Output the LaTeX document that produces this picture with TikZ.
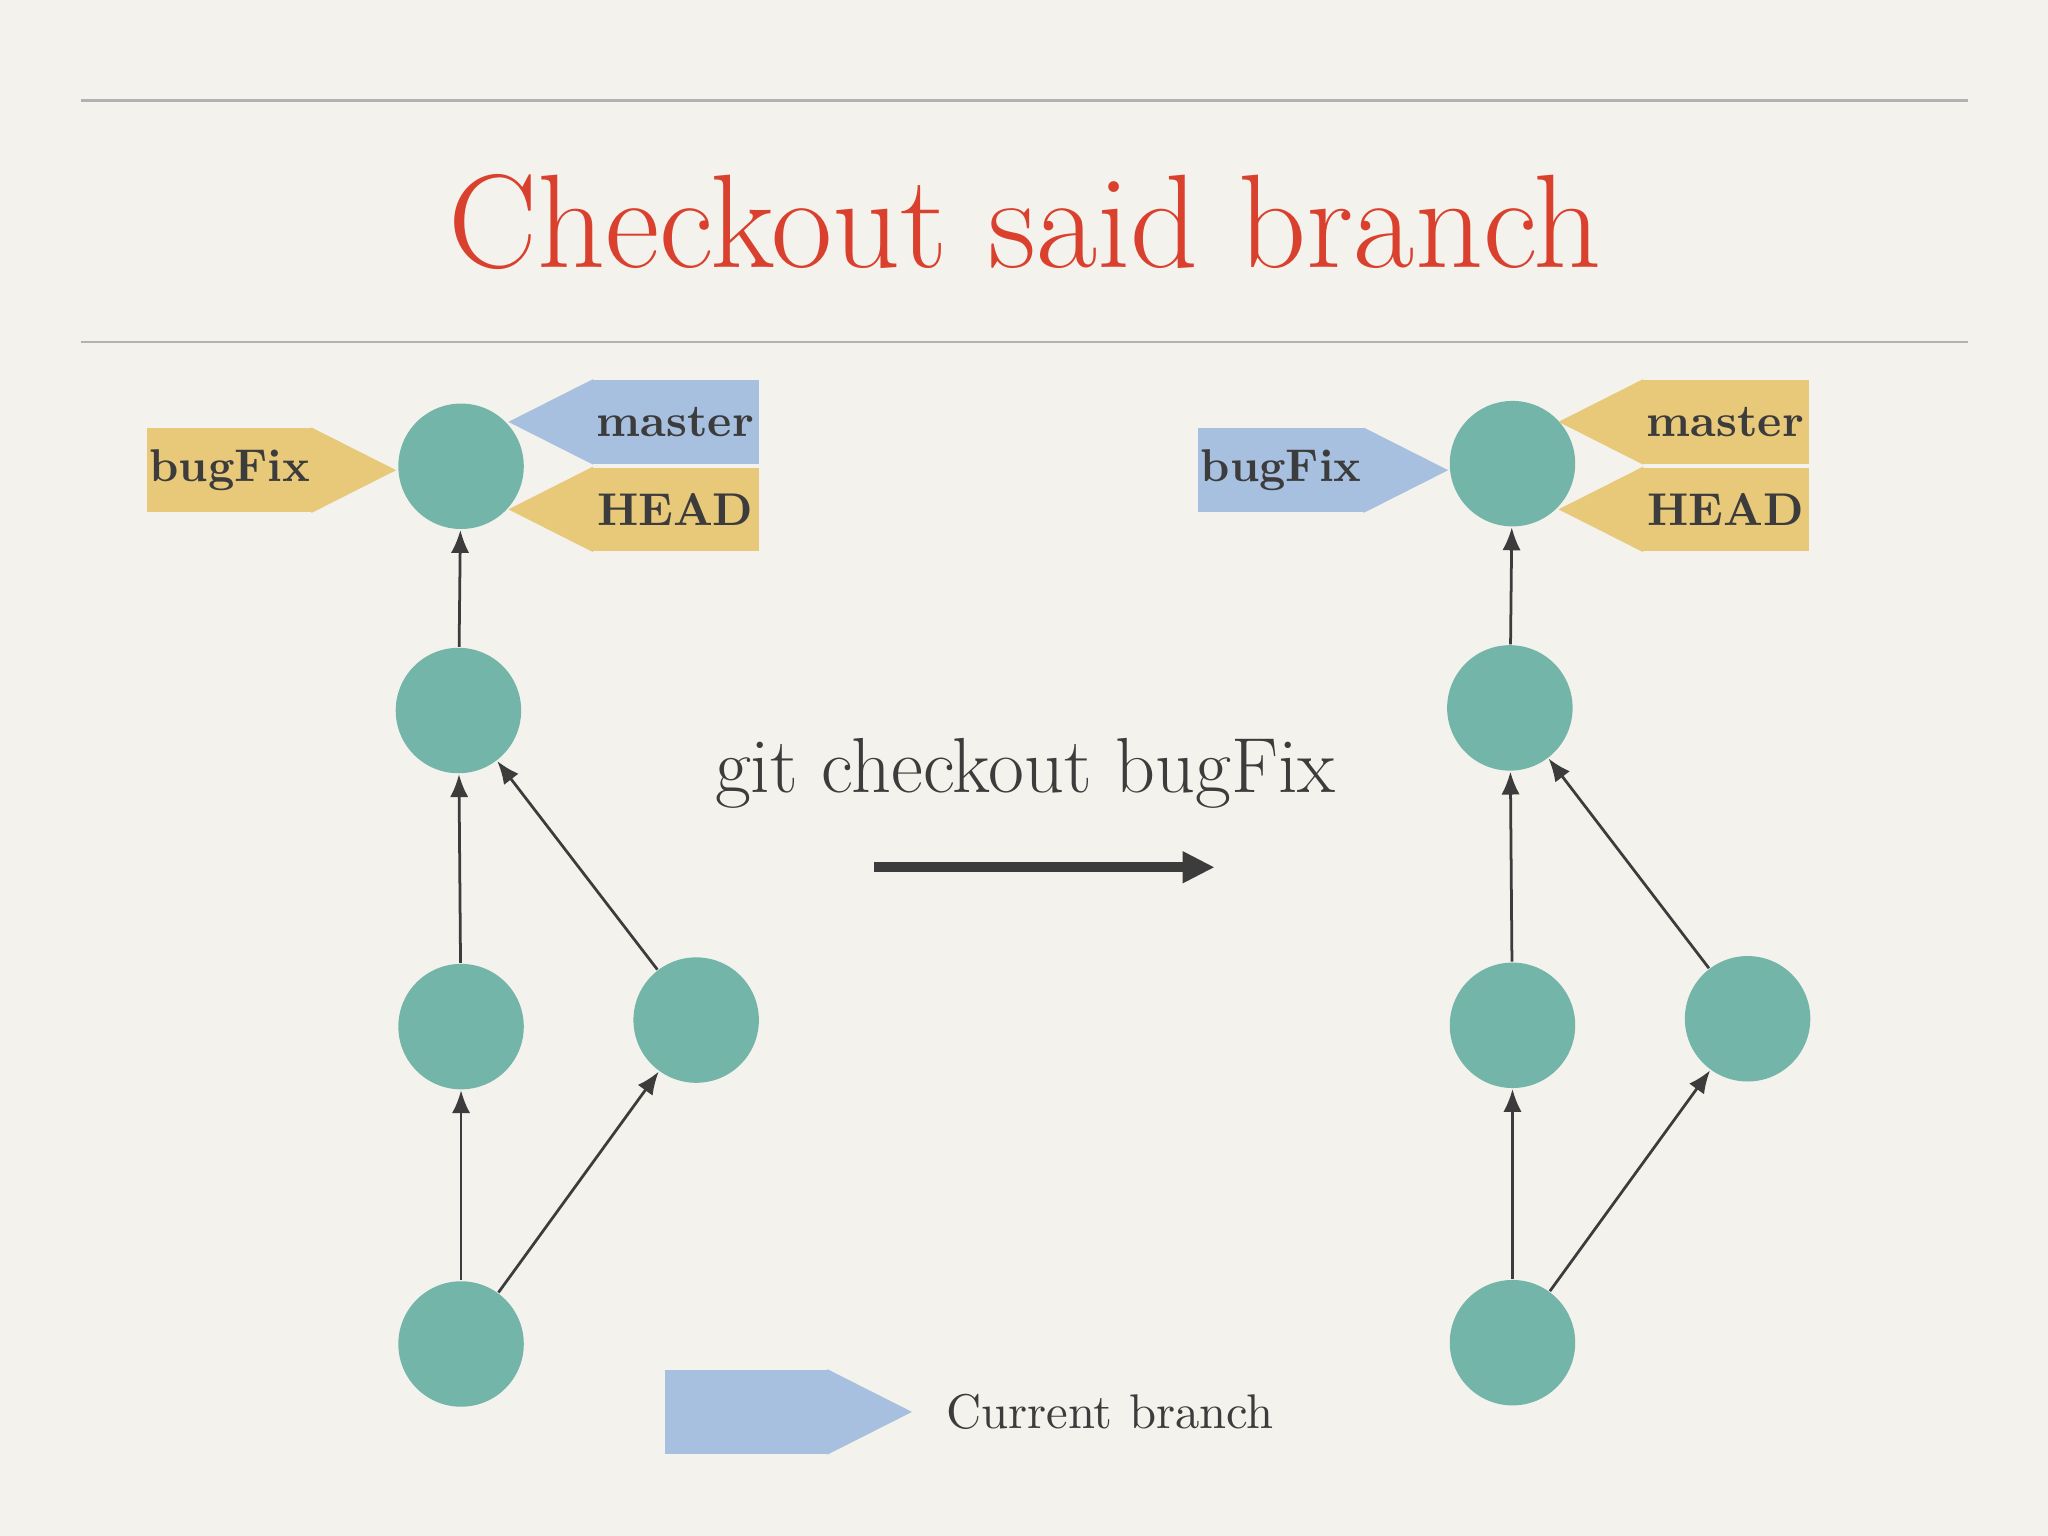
\documentclass[tikz,border=0pt]{standalone}
\usepackage{tikz}
\usetikzlibrary{arrows.meta}
\usetikzlibrary{positioning}
\definecolor{commit}{HTML}{73B5A8}
\definecolor{tagy}{HTML}{E8C97A}
\definecolor{tagb}{HTML}{A8C0E0}
\definecolor{titlered}{HTML}{D9412E}
\definecolor{ink}{HTML}{3C3C3C}
\tikzset{
commit/.style={circle,
  fill=commit,
    minimum size=0.96cm,
    inner sep=0},
tag/.style={rectangle,
  minimum width=1.28cm,
    minimum height=0.64cm,
    inner sep=0,
    font=\fontsize{10}{12}\selectfont\bfseries,
    text=ink},
edge/.style={draw=ink, line width=0.6pt, -{Latex[length=5pt,width=4pt]}},
}
% pointer on the right / left side of a tag node
\newcommand{\tipE}[2]{\fill [#2] ([xshift=-0.5pt]#1.north east) -- ([xshift=0.63cm]#1.east) -- ([xshift=-0.5pt]#1.south east) -- cycle;}
\newcommand{\tipW}[2]{\fill [#2] ([xshift=0.5pt]#1.north west) -- ([xshift=-0.63cm]#1.west) -- ([xshift=0.5pt]#1.south west) -- cycle;}
\begin{document}
\begin{tikzpicture}[x=0.01cm,y=-0.01cm]
  \fill [color={rgb,255:red,244;green,242;blue,236}] (0,0) rectangle (1568,1176);
  \useasboundingbox (0,0) rectangle (1568,1176);

  % Title
  \draw [gray!60, line width=0.5pt] (62,77) -- (1507,77);
  \draw [gray!60, line width=0.5pt] (62,262) -- (1507,262);
  \node [text=titlered, font=\fontsize{29}{32}\selectfont] (title) at (785,170) {Checkout said branch};

  % Left graph
  \node [commit] (la) at (353,357) {};
  \node [commit] (lb) at (351,544) {};
  \node [commit] (lc) at (353,786) {};
  \node [commit] (ld) at (533,781) {};
  \node [commit] (le) at (353,1029) {};
  \draw [edge] (le) -- (lc);
  \draw [edge] (le) -- (ld);
  \draw [edge] (lc) -- (lb);
  \draw [edge] (ld) -- (lb);
  \draw [edge] (lb) -- (la);
  \node [tag, fill=tagy, minimum width=1.27cm] (lbug) at (176,360) {bugFix};
  \tipE{lbug}{tagy}
  \node [tag, fill=tagb] (lmaster) at (517,323) {master\hspace{0.2cm}};
  \tipW{lmaster}{tagb}
  \node [tag, fill=tagy] (lhead) at (517,390) {HEAD\hspace{0.2cm}};
  \tipW{lhead}{tagy}

  % Right graph
  \node [commit] (ra) at (1158,355) {};
  \node [commit] (rb) at (1156,542) {};
  \node [commit] (rc) at (1158,785) {};
  \node [commit] (rd) at (1338,780) {};
  \node [commit] (re) at (1158,1028) {};
  \draw [edge] (re) -- (rc);
  \draw [edge] (re) -- (rd);
  \draw [edge] (rc) -- (rb);
  \draw [edge] (rd) -- (rb);
  \draw [edge] (rb) -- (ra);
  \node [tag, fill=tagb] (rbug) at (981,360) {bugFix};
  \tipE{rbug}{tagb}
  \node [tag, fill=tagy] (rmaster) at (1321,323) {master\hspace{0.2cm}};
  \tipW{rmaster}{tagy}
  \node [tag, fill=tagy] (rhead) at (1321,390) {HEAD\hspace{0.2cm}};
  \tipW{rhead}{tagy}

  % Command
  \node [text=ink, font=\fontsize{17}{20}\selectfont] (cmd) at (785,592) {git checkout bugFix};
  \coordinate (from) at (669,664);
  \coordinate (to) at (930,664);
  \draw [ink, line width=2.2pt, -{Triangle[length=7pt,width=6.5pt]}] (from) -- (to);

  % Legend
  \node [tag, fill=tagb, minimum width=1.25cm] (legend) at (572,1081) {};
  \tipE{legend}{tagb}
  \node [text=ink, font=\fontsize{10.6}{13}\selectfont, anchor=west] (legtext) at (712,1081) {Current branch};
\end{tikzpicture}
\end{document}
